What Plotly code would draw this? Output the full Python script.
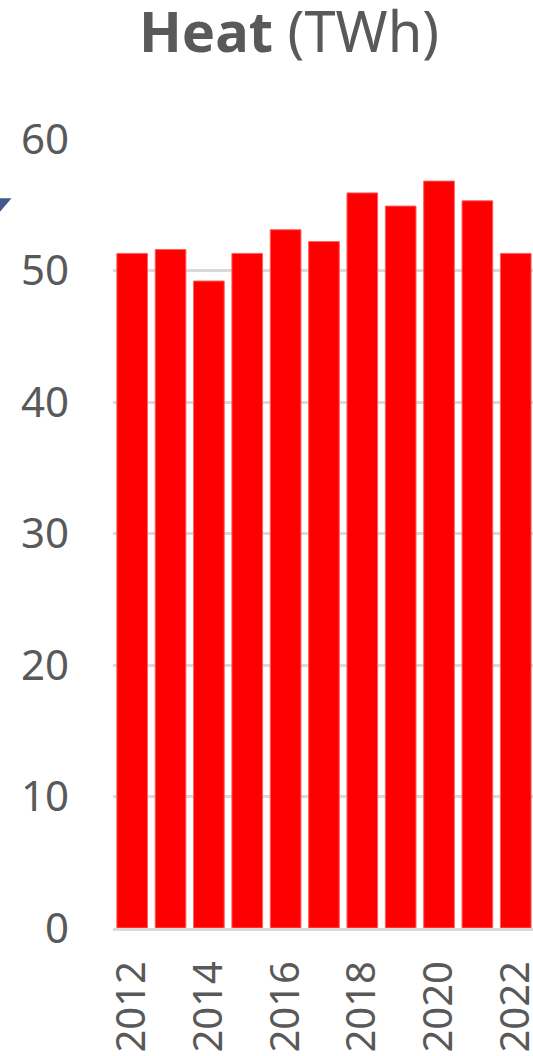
import plotly.graph_objects as go

years = [2012, 2013, 2014, 2015, 2016, 2017, 2018, 2019, 2020, 2021, 2022]
heat_twh = [51.3, 51.6, 49.2, 51.3, 53.1, 52.2, 55.9, 54.9, 56.8, 55.3, 51.3]
x_tick_years = [2012, 2014, 2016, 2018, 2020, 2022]
y_ticks = [0, 10, 20, 30, 40, 50, 60]

GRAY = "#595959"
FONT = "Noto Sans"

fig = go.Figure()
fig.add_trace(go.Bar(
    x=years, y=heat_twh,
    marker=dict(color="#FF0000", line=dict(color="#FF6060", width=1)),
    width=0.8,
    hoverinfo="x+y",
))

fig.update_layout(
    width=533, height=1056,
    margin=dict(l=113, r=0, t=139, b=128, autoexpand=False),
    paper_bgcolor="white", plot_bgcolor="white",
    showlegend=False,
    title=dict(
        text="<b>Heat</b> (TWh)",
        font=dict(family=FONT, size=56, color=GRAY),
        x=289/533, xanchor="center", xref="container",
        y=1 - 52/1056, yanchor="bottom", yref="container",
        pad=dict(t=0, b=0, l=0, r=0),
    ),
    xaxis=dict(
        range=[2011.5, 2022.45],
        tickvals=x_tick_years,
        ticktext=[str(v) for v in x_tick_years],
        tickangle=-90,
        tickfont=dict(family=FONT, size=40, color=GRAY),
        showgrid=False, zeroline=False,
        showline=True, linecolor="#D9D9D9", linewidth=3,
        ticks="", ticklabelstandoff=14,
        ticklabeloverflow="allow",
        automargin=False,
        fixedrange=True,
    ),
    yaxis=dict(
        range=[0, 60],
        tickvals=y_ticks,
        tickfont=dict(family=FONT, size=42, color=GRAY),
        showgrid=True, gridcolor="#D9D9D9", gridwidth=3,
        zeroline=False, showline=False,
        ticks="", ticklabelstandoff=43,
        automargin=False,
        fixedrange=True,
    ),
    shapes=[dict(
        type="path", xref="paper", yref="paper",
        path="M {x0} {y0} L {x1} {y0} L {x0} {y2} Z".format(
            x0=-113/420, x1=(11.5-113)/420,
            y0=(928-198.3)/789, y2=(928-211.7)/789),
        fillcolor="#3E5A8F", line=dict(width=0), layer="above",
    )],
)

fig.write_html(
    "out.html",
    config=dict(displayModeBar=False),
    post_script="document.body.style.margin='0';document.body.style.overflow='hidden';",
)
